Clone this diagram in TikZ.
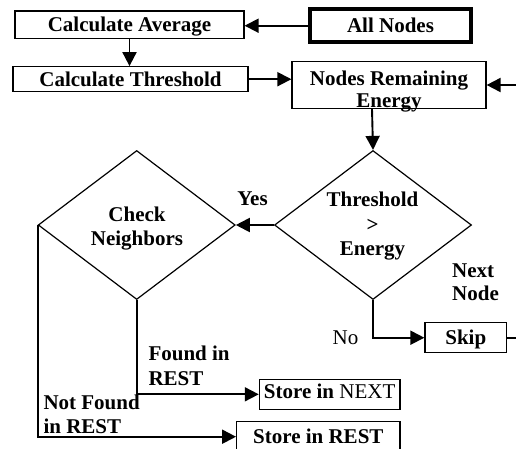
\documentclass[tikz,border=0pt]{standalone}
\usepackage{fontspec}
\setmainfont{Liberation Serif}
\usetikzlibrary{shapes.geometric,arrows.meta}
\begin{document}
\begin{tikzpicture}[x=1pt,y=-1pt,
  every node/.style={font=\fontsize{21}{24.5}\selectfont\bfseries},
  box/.style={draw,line width=1.2pt,rectangle,inner sep=0pt,text height=14.2pt,text depth=0pt},
  dia/.style={draw,line width=1.2pt,diamond,inner sep=0pt,minimum width=197pt,minimum height=149pt},
  lbl/.style={inner sep=0pt,align=center},
  conn/.style={line width=1.9pt,-{Triangle[length=14pt,width=14pt]}}]
\useasboundingbox (0,0) rectangle (516,448);
% boxes
\node[box,minimum width=229pt,minimum height=27.5pt] (avg) at (129.5,24.7) {Calculate Average};
\node[box,line width=4pt,minimum width=161pt,minimum height=32.7pt] (all) at (390.5,25.7) {All Nodes};
\node[box,minimum width=235pt,minimum height=25pt] (thr) at (130.5,79.2) {Calculate Threshold};
\node[box,minimum width=194pt,minimum height=46.6pt] (nre) at (389,85) {};
\node[lbl,font=\fontsize{21}{22}\selectfont\bfseries] (nret) at (389,91.6) {Nodes Remaining\\Energy};
% diamonds
\node[dia] (tdia) at (373,225) {};
\node[dia] (cdia) at (136.7,225) {};
\node[lbl] (tdt) at (372.5,226.3) {Threshold\\>\\Energy};
\node[lbl] (cnt) at (137,228.4) {Check\\Neighbors};
% lower boxes
\node[box,minimum width=81.7pt,minimum height=30pt] (skip) at (465.8,337.7) {Skip};
\node[box,text height=8pt,minimum width=140.7pt,minimum height=30pt] (sn) at (329.7,394.3) {Store in {\mdseries NEXT}};
\node[box,minimum width=163.3pt,minimum height=30pt] (sr) at (318.3,436.7) {Store in REST};
% labels
\node[lbl,anchor=base] (yes) at (252.5,205.7) {Yes};
\node[lbl,align=left,anchor=west,font=\fontsize{21}{23.5}\selectfont\bfseries] (nextn) at (452,282) {Next\\Node};
\node[lbl,anchor=base,font=\fontsize{21}{24.5}\selectfont] (no) at (345.5,344) {No};
\node[lbl,align=left,anchor=west] (fir) at (148.3,365.8) {Found in\\REST};
\node[lbl,align=left,anchor=west] (nfir) at (43.3,414.4) {Not Found\\in REST};
% connectors
\coordinate (loop) at (521,0);
\draw[conn] (all.west) -- (all.west -| avg.east);
\draw[conn] (avg.south) -- (avg.south |- thr.north);
\draw[conn] (thr.east) -- (thr.east -| nre.west);
\draw[conn] ([xshift=-17pt]nre.south) -- (tdia.north);
\draw[conn] (tdia.west) -- (cdia.east);
\draw[conn] (tdia.south) |- (skip.west);
\draw[conn] (skip.east) -- (skip.east -| loop) |- (nre.east);
\draw[conn] (cdia.south) |- (sn.west);
\draw[conn] (cdia.west) |- (sr.west);
\end{tikzpicture}
\end{document}
